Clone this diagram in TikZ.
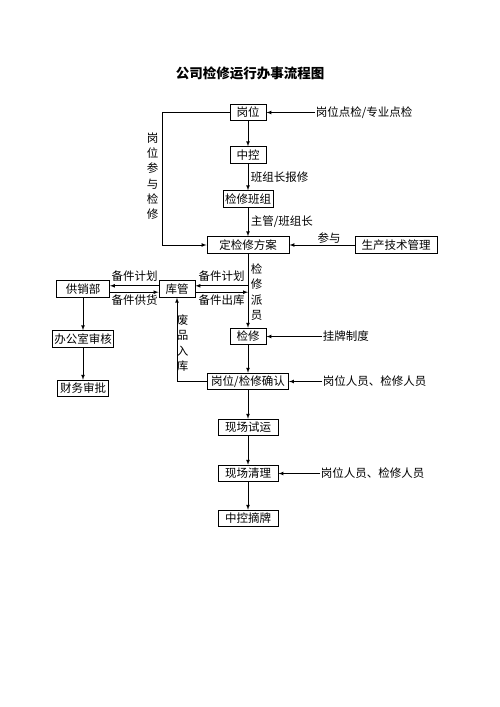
\documentclass[tikz,border=0pt]{standalone}
\usepackage{fontspec}
\setmainfont{Noto Sans CJK SC}
\usetikzlibrary{arrows,calc}

\begin{document}
\begin{tikzpicture}[x=1pt,y=1pt,yscale=-1,xscale=1,>=latex,
  box/.style={draw,line width=1pt,minimum height=16.5pt,inner sep=2pt,font=\fontsize{11.5}{13}\selectfont},
  lbl/.style={inner sep=0.75pt,font=\fontsize{11.5}{13}\selectfont},
  vlbl/.style={inner sep=0.75pt,align=center,font=\fontsize{11.5}{15.3}\selectfont},
  conn/.style={line width=0.7pt}]
\useasboundingbox (0,0) rectangle (500,707);

% Title
\node[inner sep=0pt,font=\fontsize{13.5}{15}\selectfont\bfseries] (title) at (250,73.5) {公司检修运行办事流程图};

% Main column
\node[box,minimum width=36pt] (gangwei) at (248,112.5) {岗位};
\node[box,minimum width=36pt] (zhongkong) at (248,155) {中控};
\node[box,minimum width=50pt] (banzu) at (248,199) {检修班组};
\node[box,minimum width=82pt] (fangan) at (248,245) {定检修方案};
\node[box,minimum width=82pt] (shengchan) at (396,245) {生产技术管理};
\node[box,minimum width=36pt] (jianxiu) at (248,336.5) {检修};
\node[box,minimum width=81pt] (queren) at (248,381.5) {岗位/检修确认};
\node[box,minimum width=60pt] (shiyun) at (248,427.5) {现场试运};
\node[box,minimum width=60pt] (qingli) at (248,473.5) {现场清理};
\node[box,minimum width=60pt] (zhaipai) at (248,518.5) {中控摘牌};

% Left column
\node[box,minimum width=53pt] (gongxiao) at (83,289) {供销部};
\node[box,minimum width=36pt] (kuguan) at (177,289) {库管};
\node[box,minimum width=61pt] (bangong) at (83,339) {办公室审核};
\node[box,minimum width=51pt] (caiwu) at (83,388.5) {财务审批};

% Text Nodes
\node[lbl,anchor=west] (dianjian) at (315,112.5) {岗位点检/专业点检};
\node[lbl,anchor=west] (baoxiu) at (250,177) {班组长报修};
\node[lbl,anchor=west] (zhuguan) at (250,222) {主管/班组长};
\node[lbl] (canyu) at (329,238) {参与};
\node[lbl] (jihuaL) at (134.5,276) {备件计划};
\node[lbl] (gonghuo) at (134.5,300) {备件供货};
\node[lbl] (jihuaR) at (221.5,276) {备件计划};
\node[lbl] (chuku) at (221.5,300) {备件出库};
\node[lbl,anchor=west] (guapai) at (322,336.5) {挂牌制度};
\node[lbl,anchor=west] (renyuanA) at (322,381.5) {岗位人员、检修人员};
\node[lbl,anchor=west] (renyuanB) at (320,473.5) {岗位人员、检修人员};
\node[vlbl] (canyuV) at (152.7,176) {岗\\位\\参\\与\\检\\修};
\node[vlbl] (paiyuan) at (256.7,292) {检\\修\\派\\员};
\node[vlbl] (feipin) at (182.7,343) {废\\品\\入\\库};

% Connectors
\draw[conn,->] (gangwei) -- (zhongkong);
\draw[conn,->] (zhongkong) -- (banzu);
\draw[conn,->] (banzu) -- (fangan);
\draw[conn,->] (fangan) -- (jianxiu);
\draw[conn,->] (jianxiu) -- (queren);
\draw[conn,->] (queren) -- (shiyun);
\draw[conn,->] (shiyun) -- (qingli);
\draw[conn,->] (qingli) -- (zhaipai);
\draw[conn,->] (dianjian.west) -- (gangwei.east);
\draw[conn,->] (gangwei.west) -- ++(-67,0) |- (fangan.west);
\draw[conn,->] (shengchan.west) -- (fangan.east);
\draw[conn,->] (guapai.west) -- (jianxiu.east);
\draw[conn,->] (renyuanA.west) -- (queren.east);
\draw[conn,->] (renyuanB.west) -- (qingli.east);

\coordinate (kgR1) at ($(kuguan.east)+(0,-3.2)$);
\coordinate (kgR2) at ($(kuguan.east)+(0,3.2)$);
\coordinate (kgL1) at ($(kuguan.west)+(0,-3.2)$);
\coordinate (kgL2) at ($(kuguan.west)+(0,3.2)$);
\draw[conn,->] (fangan.south |- kgR1) -- (kgR1);
\draw[conn,->] (kgR2) -- (fangan.south |- kgR2);
\draw[conn,->] (kgL1) -- (gongxiao.east |- kgL1);
\draw[conn,->] (gongxiao.east |- kgL2) -- (kgL2);
\draw[conn,->] (queren.west) -| (kuguan.south);

\draw[conn,->] (gongxiao) -- (bangong);
\draw[conn,->] (bangong) -- (caiwu);

\end{tikzpicture}
\end{document}
